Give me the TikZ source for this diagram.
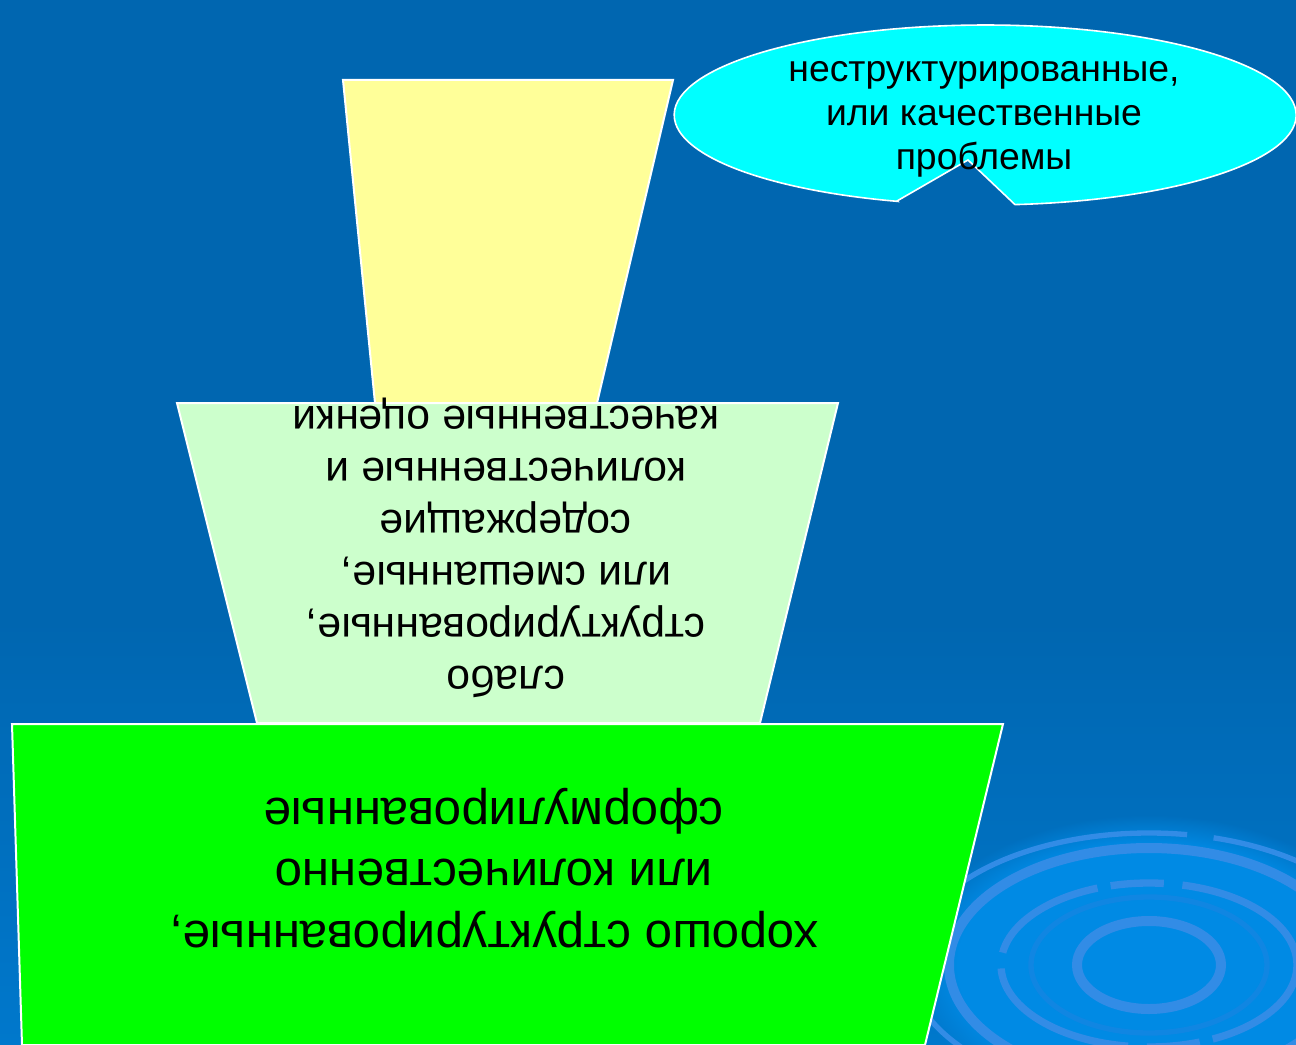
\documentclass[tikz,border=0pt]{standalone}
\usepackage{fontspec}
\setmainfont{Liberation Sans}
\usetikzlibrary{fadings}
\definecolor{bgtop}{RGB}{0,102,176}
\definecolor{bgbot}{RGB}{0,120,204}
\definecolor{glow}{RGB}{0,138,228}
\definecolor{ripple}{RGB}{50,140,230}
\definecolor{ripplesoft}{RGB}{16,134,226}
\definecolor{paleyellow}{RGB}{255,255,153}
\definecolor{palegreen}{RGB}{204,255,204}
\definecolor{brightgreen}{RGB}{0,255,0}
\definecolor{calloutcyan}{RGB}{0,255,255}
\tikzset{
  tier/.style={draw=white, line width=1.5pt, line join=miter},
  tiertext/.style={text=black, align=center, rotate=180, inner sep=0pt},
  ring/.style={draw=ripple, line width=#1},
}
\begin{document}
\begin{tikzpicture}[x=0.75pt,y=-0.75pt]
\useasboundingbox (0,0) rectangle (1296,1045);
% background: flat upper part, lighter towards the bottom
\fill[bgtop] (0,0) rectangle (1296,621);
\shade[top color=bgtop, bottom color=bgbot] (0,620) rectangle (1296,1045);
\begin{scope}
  \clip (0,0) rectangle (1296,1045);
  \fill[glow, path fading=circle with fuzzy edge 20 percent] (1149,965) ellipse [x radius=240, y radius=150];
  % ripple rings
  \draw[ring=7.5pt] (1149,965) ellipse [x radius=72, y radius=44];
  \draw[draw=ripplesoft, line width=4pt] (1149,965) ellipse [x radius=118, y radius=68];
  \draw[ring=5.5pt, dash pattern=on 90pt off 10pt on 40pt off 14pt on 120pt off 12pt] (1149,965) ellipse [x radius=148, y radius=82];
  \draw[ring=7.5pt] (1149,965) ellipse [x radius=200, y radius=117];
  \draw[ring=4pt, dash pattern=on 110pt off 30pt on 200pt off 20pt] (1149,965) ellipse [x radius=240, y radius=132];
\end{scope}
% tiers
\path[tier, fill=paleyellow] (343,80) coordinate (y1) -- (673,80) coordinate (y2) -- (597,403) coordinate (y3) -- (375,403) coordinate (y4) -- cycle;
\path[tier, fill=palegreen] (177,403) coordinate (m1) -- (838,403) coordinate (m2) -- (760,723) coordinate (m3) -- (257,723) coordinate (m4) -- cycle;
\path[tier, fill=brightgreen] (12,724) coordinate (b1) -- (1003,724) coordinate (b2) -- (925,1045) coordinate (b3) -- (22,1045) coordinate (b4) -- cycle;
\node[tiertext, font=\fontsize{32}{39}\selectfont] (midtext) at (506,548)
  {слабо\\структурированные,\\или смешанные,\\содержащие\\количественные и\\качественные оценки};
\node[tiertext, font=\fontsize{37}{46}\selectfont] (basetext) at (494,868)
  {хорошо структурированные,\\или количественно\\сформулированные};
% callout
\coordinate (cl) at (897,201);
\coordinate (ctip) at (968,160);
\coordinate (cr) at (1015,204.6);
\path[draw=white, line width=1.2pt, fill=calloutcyan] (cl) -- (ctip) -- (cr)
  arc[start angle=84.5, end angle=-253.6, x radius=311, y radius=90] -- cycle;
\node[text=black, align=center, inner sep=0pt, font=\fontsize{28}{33}\selectfont] (calltext) at (984,119)
  {неструктурированные,\\или качественные\\проблемы};
\end{tikzpicture}
\end{document}
